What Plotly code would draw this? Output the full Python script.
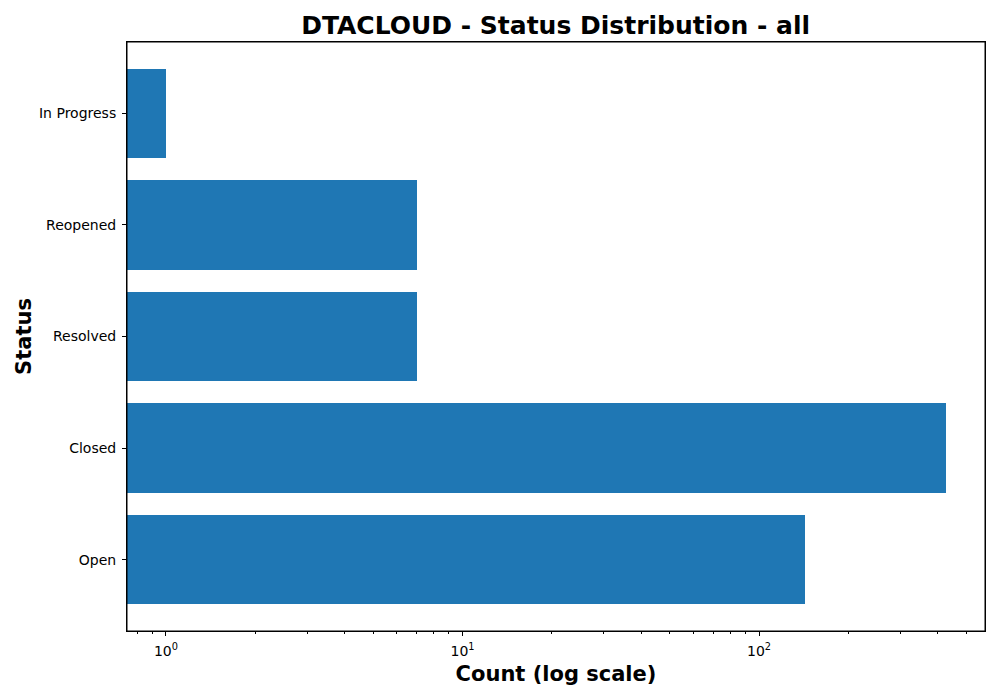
import math
import plotly.graph_objects as go

statuses = ["Open", "Closed", "Resolved", "Reopened", "In Progress"]
counts = [143, 427, 7, 7, 1]

major_ticks = [1, 10, 100]
major_text = ["10<sup>0</sup>", "10<sup>1</sup>", "10<sup>2</sup>"]
minor_ticks = [0.8, 0.9] + [m * 10 ** e for e in range(0, 3) for m in range(2, 10)]

x_min, x_max = 0.739, 578

fig = go.Figure(
    go.Bar(
        x=counts,
        y=list(range(len(statuses))),
        orientation="h",
        width=0.8,
        marker=dict(color="#1f77b4", line=dict(width=0)),
    )
)

axis_common = dict(
    showline=True,
    linecolor="black",
    linewidth=1,
    mirror=True,
    showgrid=False,
    zeroline=False,
    automargin=False,
    ticks="outside",
    tickcolor="black",
    tickwidth=1,
    ticklen=4,
    ticklabelstandoff=3,
    tickfont=dict(family="DejaVu Sans", size=14, color="black"),
)

# the page body has an 8px default margin, so the figure is 8px smaller
fig.update_layout(
    width=992,
    height=692,
    paper_bgcolor="white",
    plot_bgcolor="white",
    margin=dict(l=119, r=15, t=34, b=69, autoexpand=False),
    showlegend=False,
    bargap=0,
    title=dict(
        text="<b>DTACLOUD - Status Distribution - all</b>",
        x=0.552,
        xanchor="center",
        y=0.975,
        yanchor="middle",
        font=dict(family="DejaVu Sans", size=25, color="black"),
    ),
    xaxis=dict(
        type="log",
        range=[math.log10(x_min), math.log10(x_max)],
        tickmode="array",
        tickvals=major_ticks,
        ticktext=major_text,
        minor=dict(
            tickmode="array",
            tickvals=minor_ticks,
            ticks="outside",
            ticklen=2,
            tickcolor="black",
            tickwidth=1,
            showgrid=False,
        ),
        title=dict(
            text="<b>Count (log scale)</b>",
            font=dict(family="DejaVu Sans", size=21, color="black"),
            standoff=8,
        ),
        **axis_common,
    ),
    yaxis=dict(
        range=[-0.64, 4.64],
        tickmode="array",
        tickvals=list(range(len(statuses))),
        ticktext=statuses,
        title=dict(
            text="<b>Status</b>",
            font=dict(family="DejaVu Sans", size=21, color="black"),
            standoff=1,
        ),
        **axis_common,
    ),
    shapes=[
        dict(
            type="rect",
            xref="paper",
            yref="paper",
            x0=0,
            x1=1,
            y0=0,
            y1=1,
            line=dict(color="black", width=1),
            fillcolor="rgba(0,0,0,0)",
            layer="above",
        )
    ],
)

fig.write_html("out.html")
